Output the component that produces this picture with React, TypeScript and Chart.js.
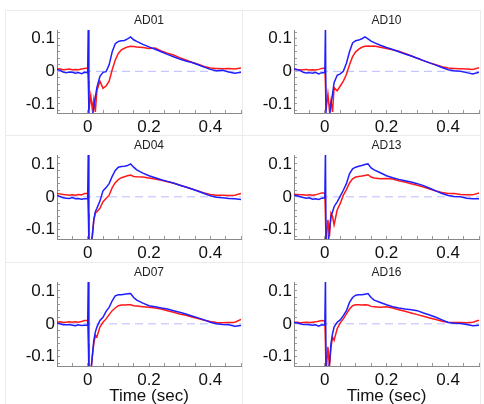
import React, { useEffect, useRef } from "react";
import { Chart, registerables } from "chart.js";

Chart.register(...registerables);

const TIME = [
  -0.1, -0.09, -0.08, -0.07, -0.06, -0.05, -0.04, -0.03, -0.02, -0.01,
  0, 0.002, 0.004, 0.01, 0.015, 0.02, 0.025, 0.03,
  0.04, 0.05, 0.06, 0.07, 0.08, 0.09, 0.1, 0.11, 0.12, 0.13, 0.14, 0.15, 0.16,
  0.18, 0.2, 0.22, 0.24, 0.26, 0.28, 0.3, 0.32, 0.34, 0.36, 0.38, 0.4, 0.42, 0.44, 0.46, 0.48, 0.5,
];

const AD01_BLUE = [
  0.006, 0.003, -0.002, -0.004, -0.002, -0.003, -0.006, -0.004, -0.007, -0.003,
  -0.004, 0.14, -0.15, -0.15, -0.14, -0.11, -0.08, -0.05,
  -0.015, -0.003, -0.001, 0.02, 0.06, 0.085, 0.092, 0.094, 0.095, 0.1, 0.106, 0.097, 0.092,
  0.083, 0.075, 0.068, 0.06, 0.052, 0.045, 0.038, 0.032, 0.027, 0.02, 0.013, 0.006, 0.002, 0.003, -0.002, -0.006, -0.003,
];
const AD01_RED = [
  0.008, 0.007, 0.005, 0.006, 0.007, 0.005, 0.006, 0.005, 0.007, 0.009,
  0.01, -0.03, -0.12, -0.075, -0.115, -0.085, -0.125, -0.06,
  -0.03, -0.052, -0.045, -0.03, 0.005, 0.035, 0.055, 0.066, 0.071, 0.075, 0.077, 0.076, 0.075,
  0.073, 0.07, 0.072, 0.063, 0.056, 0.05, 0.042, 0.035, 0.028, 0.022, 0.015, 0.01, 0.009, 0.008, 0.009, 0.007, 0.01,
];
const AD10_BLUE = [
  0.008, 0.005, 0.003, -0.003, -0.005, -0.004, -0.006, -0.003, -0.008, -0.004,
  -0.004, 0.14, -0.15, -0.15, -0.14, -0.1, -0.07, -0.035,
  -0.012, -0.008, 0.0, 0.025, 0.06, 0.087, 0.094, 0.096, 0.1, 0.106, 0.1, 0.093, 0.088,
  0.08, 0.073, 0.067, 0.06, 0.053, 0.047, 0.04, 0.033, 0.026, 0.019, 0.012, 0.005, 0.002, 0.0, -0.004, -0.008, -0.003,
];
const AD10_RED = [
  0.006, 0.006, 0.004, 0.005, 0.006, 0.004, 0.005, 0.004, 0.006, 0.009,
  0.01, -0.04, -0.12, -0.07, -0.12, -0.09, -0.125, -0.05,
  -0.06, -0.045, -0.03, -0.01, 0.02, 0.045, 0.06, 0.068, 0.074, 0.077, 0.078, 0.077, 0.078,
  0.074, 0.07, 0.066, 0.062, 0.055, 0.048, 0.04, 0.033, 0.026, 0.02, 0.014, 0.01, 0.009, 0.008, 0.007, 0.006, 0.011,
];
const AD04_BLUE = [
  0.004, 0.001, -0.003, -0.004, -0.005, -0.002, -0.006, -0.005, -0.007, -0.006,
  -0.005, 0.14, -0.15, -0.15, -0.12, -0.07, -0.045, -0.035,
  -0.013, 0.018, 0.028, 0.04, 0.062, 0.08, 0.09, 0.092, 0.093, 0.095, 0.1, 0.09, 0.082,
  0.072, 0.064, 0.058, 0.052, 0.047, 0.042, 0.035, 0.03, 0.024, 0.017, 0.01, 0.003, -0.001, -0.003, -0.005, -0.006, -0.008,
];
const AD04_RED = [
  0.01, 0.009, 0.007, 0.006, 0.005, 0.006, 0.005, 0.007, 0.006, 0.01,
  0.01, -0.05, -0.14, -0.14, -0.12, -0.07, -0.05, -0.045,
  -0.035, -0.015, -0.005, 0.005, 0.028, 0.043, 0.052, 0.058, 0.061, 0.064, 0.066, 0.062, 0.061,
  0.06, 0.057, 0.054, 0.05, 0.046, 0.041, 0.036, 0.03, 0.024, 0.018, 0.012, 0.007, 0.005, 0.005, 0.004, 0.005, 0.01,
];
const AD13_BLUE = [
  0.005, 0.003, 0.0, -0.002, -0.004, -0.003, -0.007, -0.006, -0.008, -0.004,
  -0.003, 0.14, -0.15, -0.15, -0.1, -0.06, -0.045, -0.03,
  -0.015, 0.002, 0.02, 0.04, 0.07, 0.085, 0.09, 0.093, 0.095, 0.098, 0.1, 0.088, 0.082,
  0.073, 0.064, 0.058, 0.053, 0.049, 0.045, 0.04, 0.034, 0.026, 0.018, 0.01, 0.004, 0.001, 0.0, -0.004, -0.006, -0.006,
];
const AD13_RED = [
  0.008, 0.007, 0.006, 0.006, 0.005, 0.006, 0.005, 0.006, 0.009, 0.012,
  0.012, -0.06, -0.14, -0.07, -0.12, -0.05, -0.06, -0.085,
  -0.04, -0.02, 0.005, 0.022, 0.042, 0.055, 0.06, 0.062, 0.063, 0.065, 0.067, 0.06, 0.057,
  0.055, 0.056, 0.054, 0.049, 0.045, 0.04, 0.035, 0.03, 0.024, 0.018, 0.013, 0.01, 0.01, 0.007, 0.006, 0.006, 0.012,
];
const AD07_BLUE = [
  0.002, 0.0, -0.003, -0.003, -0.002, -0.004, -0.006, -0.003, -0.005, -0.004,
  -0.004, 0.14, -0.15, -0.15, -0.1, -0.05, -0.025, -0.01,
  0.01, 0.02, 0.038, 0.05, 0.07, 0.085, 0.088, 0.088, 0.09, 0.091, 0.092, 0.08, 0.072,
  0.063, 0.055, 0.052, 0.048, 0.045, 0.04, 0.035, 0.03, 0.024, 0.018, 0.012, 0.005, 0.0, -0.002, -0.003, -0.007, -0.005,
];
const AD07_RED = [
  0.005, 0.006, 0.004, 0.005, 0.006, 0.005, 0.006, 0.005, 0.007, 0.01,
  0.01, -0.06, -0.15, -0.15, -0.1, -0.06, -0.035, -0.04,
  -0.01, 0.005, 0.015, 0.028, 0.04, 0.048, 0.055, 0.057, 0.057, 0.058, 0.058, 0.055, 0.054,
  0.052, 0.05, 0.048, 0.045, 0.04, 0.035, 0.03, 0.026, 0.021, 0.016, 0.011, 0.007, 0.004, 0.003, 0.004, 0.005, 0.013,
];
const AD16_BLUE = [
  0.004, 0.003, 0.0, -0.002, -0.002, -0.003, -0.004, -0.003, -0.007, -0.003,
  -0.004, 0.14, -0.15, -0.15, -0.12, -0.06, -0.03, -0.01,
  0.005, 0.012, 0.025, 0.04, 0.065, 0.08, 0.087, 0.088, 0.088, 0.09, 0.092, 0.08, 0.072,
  0.065, 0.058, 0.052, 0.048, 0.045, 0.043, 0.04, 0.033, 0.027, 0.02, 0.012, 0.004, 0.002, 0.001, -0.002, -0.006, -0.004,
];
const AD16_RED = [
  0.004, 0.005, 0.003, 0.004, 0.005, 0.004, 0.005, 0.006, 0.008, 0.01,
  0.009, -0.06, -0.15, -0.07, -0.13, -0.07, -0.04, -0.05,
  -0.015, 0.003, 0.015, 0.03, 0.045, 0.055, 0.058, 0.058, 0.057, 0.058, 0.057, 0.053, 0.052,
  0.05, 0.052, 0.048, 0.043, 0.038, 0.033, 0.028, 0.023, 0.018, 0.013, 0.008, 0.005, 0.004, 0.004, 0.003, 0.005, 0.011,
];

const TITLES = ["AD01", "AD10", "AD04", "AD13", "AD07", "AD16"];
const BLUE_SERIES = [AD01_BLUE, AD10_BLUE, AD04_BLUE, AD13_BLUE, AD07_BLUE, AD16_BLUE];
const RED_SERIES = [AD01_RED, AD10_RED, AD04_RED, AD13_RED, AD07_RED, AD16_RED];

const X_LABEL_TICKS = [0, 0.2, 0.4];
const Y_LABEL_TICKS = [-0.1, 0, 0.1];
const X_MINOR_TICKS = [-0.1, -0.05, 0, 0.05, 0.1, 0.15, 0.2, 0.25, 0.3, 0.35, 0.4, 0.45, 0.5];
const Y_MINOR_TICKS = [-0.12, -0.1, -0.08, -0.06, -0.04, -0.02, 0, 0.02, 0.04, 0.06, 0.08, 0.1, 0.12];
const ZERO_LINE_X = [-0.1, 0.5];
const X_RANGE = [-0.1, 0.5];
const Y_RANGE = [-0.128, 0.127];
const X_TITLE = "Time (sec)";

const FONT = "'Liberation Sans', Arial, Helvetica, sans-serif";
const COL_X = [5, 242];
const COL_W = [237, 238];
const ROW_Y = [10, 135, 262];
const ROW_H = [125, 127, 142];
const X_AXIS_H = [22, 23, 38];

function fmt(v: number) {
  const r = Math.round(v * 1000) / 1000;
  return r === 0 ? "0" : String(r);
}

function Panel({ index }: { index: number }) {
  const ref = useRef<HTMLCanvasElement | null>(null);
  const col = index % 2;
  const row = Math.floor(index / 2);
  const w = COL_W[col];
  const h = ROW_H[row];

  useEffect(() => {
    if (!ref.current) return;
    const blue = BLUE_SERIES[index];
    const red = RED_SERIES[index];
    const chart = new Chart(ref.current, {
      type: "line",
      data: {
        datasets: [
          {
            label: "blue",
            data: TIME.map((t, i) => ({ x: t, y: blue[i] })),
            borderColor: "rgb(30,30,255)",
            borderWidth: 1.5,
            pointRadius: 0,
            tension: 0,
            fill: false,
          },
          {
            label: "red",
            data: TIME.map((t, i) => ({ x: t, y: red[i] })),
            borderColor: "rgb(255,25,25)",
            borderWidth: 1.5,
            pointRadius: 0,
            tension: 0,
            fill: false,
          },
          {
            label: "zero",
            data: ZERO_LINE_X.map((x) => ({ x, y: 0 })),
            borderColor: "rgba(180,180,255,0.9)",
            borderDash: [8, 5],
            borderWidth: 1,
            pointRadius: 0,
            fill: false,
          },
        ],
      },
      options: {
        responsive: false,
        animation: false,
        events: [],
        layout: { padding: { left: 0, right: 1, top: 0, bottom: 0 } },
        plugins: {
          legend: { display: false },
          tooltip: { enabled: false },
          title: {
            display: true,
            text: TITLES[index],
            fullSize: false,
            color: "#222",
            font: { family: FONT, size: 12, weight: "normal", lineHeight: 1.2 },
            padding: { top: 3, bottom: 2.6 },
          },
        },
        scales: {
          x: {
            type: "linear",
            min: X_RANGE[0],
            max: X_RANGE[1],
            afterBuildTicks: (s: any) => {
              s.ticks = X_MINOR_TICKS.map((v) => ({ value: v }));
            },
            afterFit: (s: any) => {
              s.height = X_AXIS_H[row];
              s.paddingLeft = 0;
              s.paddingRight = 0;
            },
            ticks: {
              autoSkip: false,
              maxRotation: 0,
              minRotation: 0,
              padding: 7.5,
              color: "#111",
              font: { family: FONT, size: 17 },
              callback: (v: any) =>
                X_LABEL_TICKS.some((t) => Math.abs(t - v) < 1e-6) ? fmt(v) : "",
            },
            grid: { drawOnChartArea: false, drawTicks: true, tickLength: -3, color: "#999" },
            border: { display: true, color: "#888", width: 1 },
            title: {
              display: row === 2,
              text: X_TITLE,
              color: "#111",
              font: { family: FONT, size: 17 },
              padding: { top: 0, bottom: -3 },
            },
          },
          y: {
            type: "linear",
            min: Y_RANGE[0],
            max: Y_RANGE[1],
            afterBuildTicks: (s: any) => {
              s.ticks = Y_MINOR_TICKS.map((v) => ({ value: v }));
            },
            afterFit: (s: any) => {
              s.width = 52;
              s.paddingTop = 0;
              s.paddingBottom = 0;
            },
            ticks: {
              autoSkip: false,
              padding: 5,
              color: "#111",
              font: { family: FONT, size: 17 },
              callback: (v: any) =>
                Y_LABEL_TICKS.some((t) => Math.abs(t - v) < 1e-6) ? fmt(v) : "",
            },
            grid: { drawOnChartArea: false, drawTicks: true, tickLength: -3, color: "#999" },
            border: { display: true, color: "#888", width: 1 },
          },
        },
      } as any,
    });
    return () => chart.destroy();
  }, [index]);

  return (
    <canvas
      ref={ref}
      width={w}
      height={h}
      style={{ position: "absolute", left: COL_X[col], top: ROW_Y[row], width: w, height: h }}
    />
  );
}

export default function App() {
  const lineColor = "#ebebeb";
  const vLines = [5, 242, 480];
  const hLines = [10, 135, 262];
  return (
    <div
      style={{
        position: "fixed",
        left: 0,
        top: 0,
        width: 484,
        height: 404,
        background: "#fff",
        overflow: "hidden",
      }}
    >
      {vLines.map((x) => (
        <div key={"v" + x} style={{ position: "absolute", left: x, top: 10, width: 1, height: 394, background: lineColor }} />
      ))}
      {hLines.map((y) => (
        <div key={"h" + y} style={{ position: "absolute", left: 5, top: y, width: 476, height: 1, background: lineColor }} />
      ))}
      {TITLES.map((_, i) => (
        <Panel key={i} index={i} />
      ))}
    </div>
  );
}
